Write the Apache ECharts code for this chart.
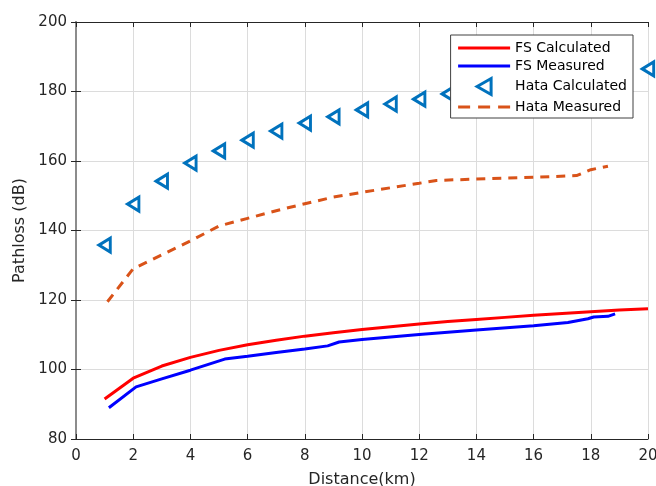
<!DOCTYPE html>
<html>
<head>
<meta charset="utf-8">
<script src="https://cdn.jsdelivr.net/npm/echarts@6/dist/echarts.min.js"></script>
<style>
  html, body { margin: 0; padding: 0; background: #fff; }
  #chart { width: 656px; height: 486px; }
</style>
</head>
<body>
<div id="chart"></div>
<script>
// values
var xTicks = [0, 2, 4, 6, 8, 10, 12, 14, 16, 18, 20];
var yTicks = [80, 100, 120, 140, 160, 180, 200];

var fsCalcX = [1, 2, 3, 4, 5, 6, 7, 8, 9, 10, 11, 12, 13, 14, 15, 16, 17, 18, 19, 20];
var fsCalcY = [91.5, 97.5, 101.0, 103.5, 105.5, 107.1, 108.4, 109.6, 110.6, 111.5,
               112.3, 113.1, 113.8, 114.4, 115.0, 115.6, 116.1, 116.6, 117.1, 117.5];

var fsMeasX = [1.15, 2.1, 3, 4, 5.2, 6, 7, 8, 8.8, 9.2, 10, 12, 14, 16, 17.2, 17.9, 18.1, 18.6, 18.85];
var fsMeasY = [89.0, 95.0, 97.3, 99.8, 103.0, 103.8, 104.9, 105.9, 106.8, 107.9,
               108.6, 110.1, 111.4, 112.6, 113.5, 114.6, 115.1, 115.3, 116.0];

var hataCalcX = [1, 2, 3, 4, 5, 6, 7, 8, 9, 10, 11, 12, 13, 14, 15, 16, 17, 18, 19, 20];
var hataCalcY = [135.8, 147.6, 154.2, 159.4, 162.9, 166.0, 168.6, 170.9, 172.7, 174.7,
                 176.4, 177.8, 179.3, 180.5, 181.7, 182.8, 183.8, 184.8, 185.7, 186.5];

var hataMeasX = [1.1, 2, 3, 4, 5, 6, 7, 8, 9, 10, 11, 12, 12.6, 14, 16, 17.5, 18, 18.6];
var hataMeasY = [119.5, 129.0, 133.0, 137.0, 141.3, 143.5, 145.7, 147.7, 149.6, 151.0,
                 152.3, 153.6, 154.4, 154.8, 155.3, 155.8, 157.5, 158.5];

var zip = function (xs, ys) {
    return xs.map(function (x, i) { return [x, ys[i]]; });
};

var font = '"DejaVu Sans", sans-serif';
var textColor = '#262626';
var leftTriangle = 'path://M0,8L14,0L14,16Z';

var chart = echarts.init(document.getElementById('chart'), null, { renderer: 'canvas' });

var baseX = {
    type: 'value', min: 0, max: 20, interval: 2,
    splitLine: { show: true, lineStyle: { color: '#dcdcdc', width: 1 } }
};
var baseY = {
    type: 'value', min: 80, max: 200, interval: 20,
    splitLine: { show: true, lineStyle: { color: '#dcdcdc', width: 1 } }
};

chart.setOption({
    backgroundColor: '#fff',
    animation: false,
    grid: { left: 76, right: 8, top: 22, bottom: 47, show: false, containLabel: false, outerBoundsMode: 'none' },
    xAxis: [
        Object.assign({}, baseX, {
            position: 'bottom',
            name: 'Distance(km)', nameLocation: 'middle', nameGap: 33,
            nameTextStyle: { fontFamily: font, fontSize: 16, color: textColor },
            axisLine: { show: true, lineStyle: { color: '#262626', width: 1 } },
            axisTick: { show: true, inside: true, length: 5, lineStyle: { color: '#262626' } },
            axisLabel: { fontFamily: font, fontSize: 15, color: textColor, margin: 10 }
        }),
        Object.assign({}, baseX, {
            position: 'top',
            splitLine: { show: false },
            axisLine: { show: true, lineStyle: { color: '#262626', width: 1 } },
            axisTick: { show: true, inside: true, length: 5, lineStyle: { color: '#262626' } },
            axisLabel: { show: false }
        })
    ],
    yAxis: [
        Object.assign({}, baseY, {
            position: 'left',
            name: 'Pathloss (dB)', nameLocation: 'middle', nameGap: 46,
            nameTextStyle: { fontFamily: font, fontSize: 16, color: textColor },
            axisLine: { show: true, lineStyle: { color: '#8c8c8c', width: 2 } },
            axisTick: { show: true, inside: true, length: 5, lineStyle: { color: '#262626' } },
            axisLabel: { fontFamily: font, fontSize: 15, color: textColor, margin: 9 }
        }),
        Object.assign({}, baseY, {
            position: 'right',
            splitLine: { show: false },
            axisLine: { show: true, lineStyle: { color: '#8c8c8c', width: 2 } },
            axisTick: { show: true, inside: true, length: 5, lineStyle: { color: '#262626' } },
            axisLabel: { show: false }
        })
    ],
    legend: {
        orient: 'vertical',
        right: 23, top: 35,
        padding: [6, 6, 4, 6],
        itemGap: 4,
        itemWidth: 52, itemHeight: 16,
        backgroundColor: '#fff',
        borderColor: '#404040', borderWidth: 1,
        textStyle: { fontFamily: font, fontSize: 14, color: '#000' },
        data: [
            { name: 'FS Calculated', itemStyle: { opacity: 0 }, lineStyle: { width: 3 } },
            { name: 'FS Measured', itemStyle: { opacity: 0 }, lineStyle: { width: 3 } },
            { name: 'Hata Calculated', itemStyle: { color: '#fff', borderColor: '#0072BD', borderWidth: 3 } },
            { name: 'Hata Measured', itemStyle: { opacity: 0 }, lineStyle: { width: 3, type: [12, 8] } }
        ]
    },
    series: [
        {
            name: 'FS Calculated', type: 'line', symbol: 'none',
            data: zip(fsCalcX, fsCalcY),
            lineStyle: { color: '#ff0000', width: 3 },
            itemStyle: { color: '#ff0000' }
        },
        {
            name: 'FS Measured', type: 'line', symbol: 'none',
            data: zip(fsMeasX, fsMeasY),
            lineStyle: { color: '#0000ff', width: 3 },
            itemStyle: { color: '#0000ff' }
        },
        {
            name: 'Hata Calculated', type: 'scatter',
            symbol: leftTriangle, symbolSize: [13, 14], symbolKeepAspect: true,
            data: zip(hataCalcX, hataCalcY),
            itemStyle: { color: '#fff', borderColor: '#0072BD', borderWidth: 3, opacity: 1 }
        },
        {
            name: 'Hata Measured', type: 'line', symbol: 'none',
            data: zip(hataMeasX, hataMeasY),
            lineStyle: { color: '#D95319', width: 3, type: [9, 7] },
            itemStyle: { color: '#D95319' }
        }
    ]
});
</script>
</body>
</html>
